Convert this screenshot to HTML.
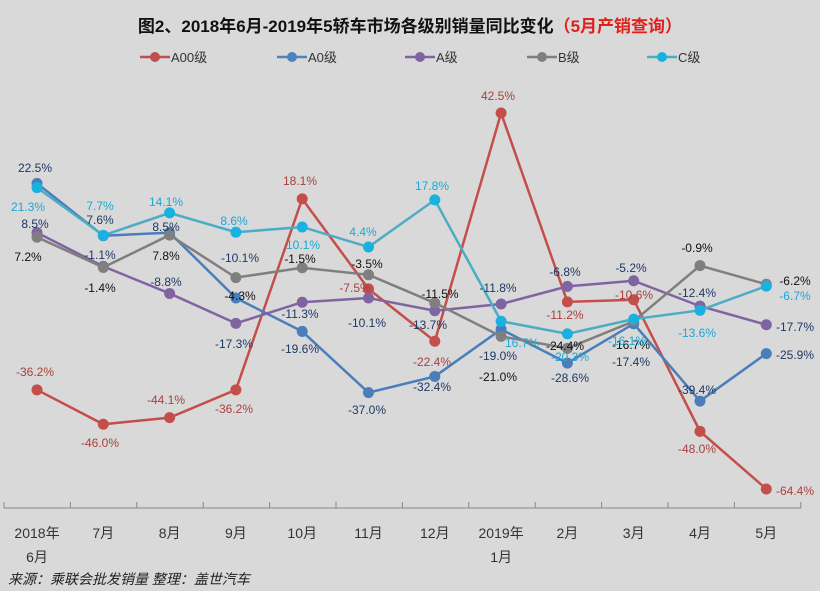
<!DOCTYPE html>
<html><head><meta charset="utf-8"><style>
html,body{margin:0;padding:0;background:#d9d9d9;}
svg{display:block;font-family:"Liberation Sans","Noto Sans CJK SC",sans-serif;}
</style></head><body>
<svg id="s" width="820" height="591" viewBox="0 0 820 591" xmlns="http://www.w3.org/2000/svg">
<rect width="820" height="591" fill="#d9d9d9"/>
<text x="410" y="32" text-anchor="middle" font-size="17" font-weight="bold" fill="#111">图2、2018年6月-2019年5轿车市场各级别销量同比变化<tspan fill="#e0201c">（5月产销查询）</tspan></text>
<g font-size="13" fill="#333">
<line x1="140" y1="57" x2="170" y2="57" stroke="#c0504d" stroke-width="2.5"/><circle cx="155" cy="57" r="5" fill="#c0504d"/><text x="171" y="62">A00级</text>
<line x1="277" y1="57" x2="307" y2="57" stroke="#4f81bd" stroke-width="2.5"/><circle cx="292" cy="57" r="5" fill="#4f81bd"/><text x="308" y="62">A0级</text>
<line x1="405" y1="57" x2="435" y2="57" stroke="#8064a2" stroke-width="2.5"/><circle cx="420" cy="57" r="5" fill="#8064a2"/><text x="436" y="62">A级</text>
<line x1="527" y1="57" x2="557" y2="57" stroke="#7f7f7f" stroke-width="2.5"/><circle cx="542" cy="57" r="5" fill="#7f7f7f"/><text x="558" y="62">B级</text>
<line x1="647" y1="57" x2="677" y2="57" stroke="#4bacc6" stroke-width="2.5"/><circle cx="662" cy="57" r="5" fill="#19b2e0"/><text x="678" y="62">C级</text>
</g>
<g id="axis"></g>
<g id="series"></g>
<g id="labels" font-size="12"></g>
<text x="8" y="584" font-size="14" fill="#222" font-style="italic">来源：乘联会批发销量  整理：盖世汽车</text>
</svg>
<script>
var NS="http://www.w3.org/2000/svg";
function el(t,a,p,txt){var e=document.createElementNS(NS,t);for(var k in a)e.setAttribute(k,a[k]);if(txt!=null)e.textContent=txt;p.appendChild(e);return e;}
function X(i){return 37+66.3*i;}
function Y(v){return 262.5-v*3.517;}
var ax=document.getElementById('axis');
el('line',{x1:4,y1:508,x2:801,y2:508,stroke:'#888','stroke-width':1},ax);
for(var i=0;i<=12;i++){var x=4+66.4*i;el('line',{x1:x,y1:502,x2:x,y2:508,stroke:'#888'},ax);}
var cats=['2018年','7月','8月','9月','10月','11月','12月','2019年','2月','3月','4月','5月'];
cats.forEach(function(c,i){el('text',{x:X(i),y:538,'text-anchor':'middle','font-size':14,fill:'#333'},ax,c);});
el('text',{x:X(0),y:562,'text-anchor':'middle','font-size':14,fill:'#333'},ax,'6月');
el('text',{x:X(7),y:562,'text-anchor':'middle','font-size':14,fill:'#333'},ax,'1月');
var S=[
{c:'#c44e4a',lc:'#a8403c',d:[-36.2,-46.0,-44.1,-36.2,18.1,-7.5,-22.4,42.5,-11.2,-10.6,-48.0,-64.4],
 L:[[35,372],[100,443],[166,400],[234,409],[300,181],[355,288],[432,362],[498,96],[565,315],[634,295],[697,449],[795,491]]},
{c:'#4a7ebb',lc:'#1f3864',d:[22.5,7.6,8.5,-10.1,-19.6,-37.0,-32.4,-19.0,-28.6,-17.4,-39.4,-25.9],
 L:[[35,168],[100,220],[166,227],[240,258],[300,349],[367,410],[432,387],[498,356],[570,378],[631,362],[697,390],[795,355]]},
{c:'#8064a2',lc:'#1f3864',d:[8.5,-1.1,-8.8,-17.3,-11.3,-10.1,-13.7,-11.8,-6.8,-5.2,-12.4,-17.7],
 L:[[35,224],[100,255],[166,282],[234,344],[300,314],[367,323],[428,325],[498,288],[565,272],[631,268],[697,293],[795,327]]},
{c:'#7f7f7f',lc:'#111',d:[7.2,-1.4,7.8,-4.3,-1.5,-3.5,-11.5,-21.0,-24.4,-16.7,-0.9,-6.2],
 L:[[28,257],[100,288],[166,256],[240,296],[300,259],[367,264],[440,294],[498,377],[565,346],[631,345],[697,248],[795,281]]},
{c:'#4bacc6',lc:'#19a8d8',d:[21.3,7.7,14.1,8.6,10.1,4.4,17.8,-16.7,-20.3,-16.1,-13.6,-6.7],
 L:[[28,207],[100,206],[166,202],[234,221],[303,245],[363,232],[432,186],[522,343],[570,357],[627,341],[697,333],[795,296]],
 pc:'#19b2e0'}
];
var sg=document.getElementById('series'),lg=document.getElementById('labels');
S.forEach(function(s,k){
 var pts=s.d.map(function(v,i){return X(i)+','+Y(v)}).join(' ');
 el('polyline',{points:pts,fill:'none',stroke:s.c,'stroke-width':2.5},sg);
 s.d.forEach(function(v,i){el('circle',{cx:X(i),cy:Y(v),r:5.5,fill:s.pc||s.c},sg);
  var t=(k==4&&i==7)?'16.7%':v.toFixed(1)+'%';
  el('text',{x:s.L[i][0],y:s.L[i][1]+4,'text-anchor':'middle',fill:s.lc},lg,t);});
});
</script>
</body></html>
